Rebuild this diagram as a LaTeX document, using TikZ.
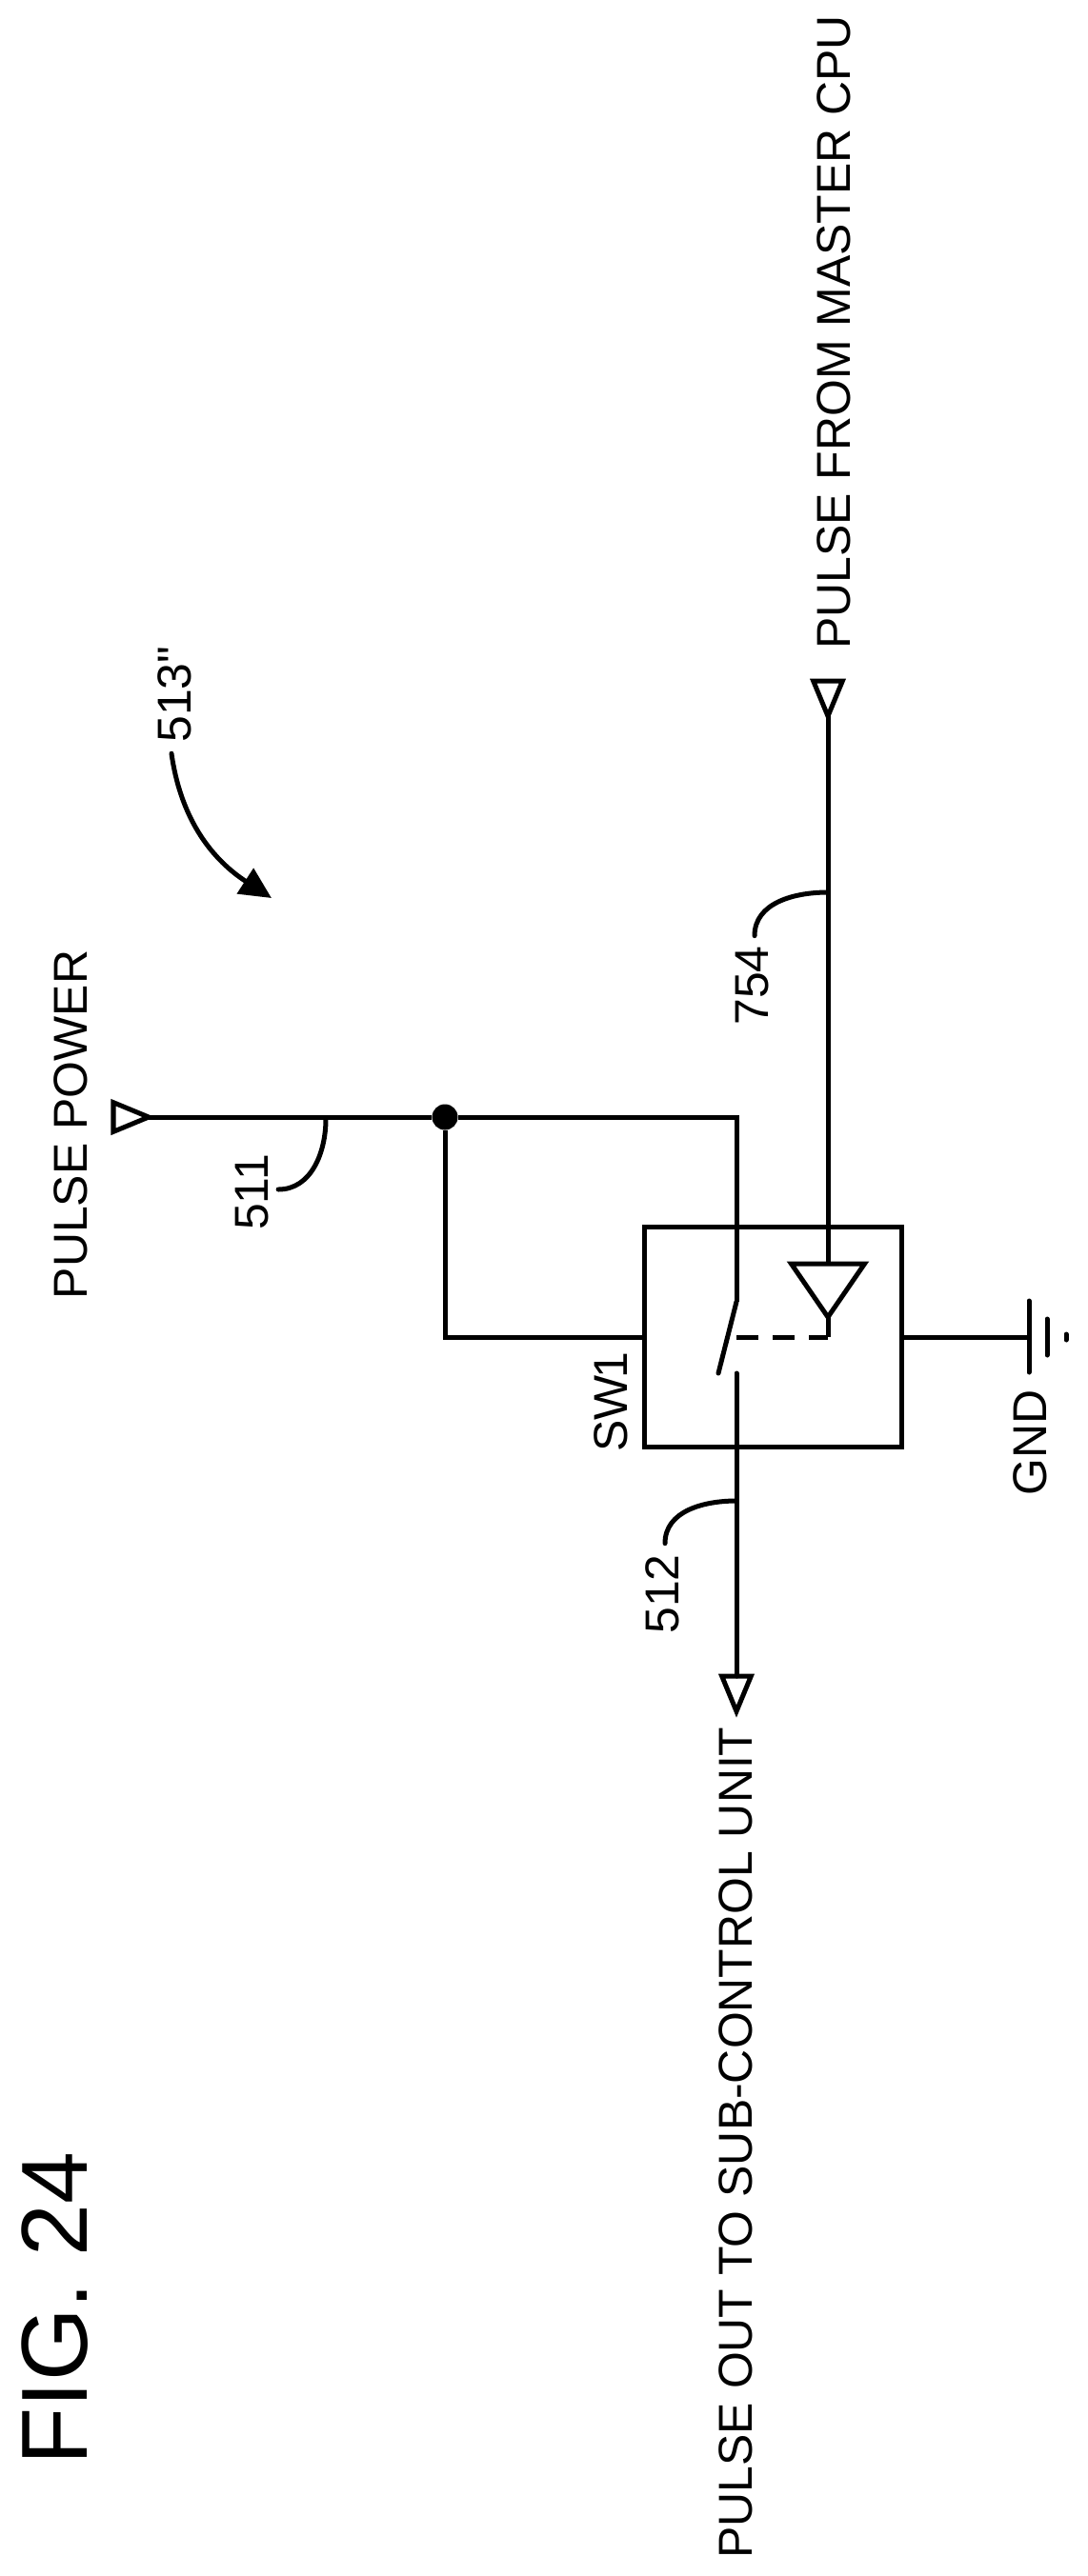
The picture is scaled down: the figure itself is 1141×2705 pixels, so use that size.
\documentclass[tikz,border=0pt]{standalone}
\usepackage{fontspec}
\setmainfont{Liberation Sans}
\newfontfamily\labelfont{Liberation Sans}
\usetikzlibrary{arrows.meta,shapes.geometric}
\tikzset{
    wire/.style={line width=.05cm},
    leader/.style={line width=.05cm,line cap=round},
    label text/.style={rotate=90,inner sep=0pt,font=\labelfont\fontsize{14.2}{16}\selectfont},
    term/.style={draw,line width=.05cm,isosceles triangle,isosceles triangle apex angle=45,
        inner sep=0pt,outer sep=0pt,minimum height=.37cm,anchor=lower side},
    buffer/.style={draw,line width=.05cm,isosceles triangle,isosceles triangle apex angle=69,
        inner sep=0pt,outer sep=0pt,minimum height=.56cm,anchor=lower side},
}

\begin{document}
\begin{tikzpicture}[x=.01cm,y=-.01cm]
	\useasboundingbox (0,0) rectangle (1141,2705);
	% switch box
	\node[draw,line width=.05cm,minimum width=2.69cm,minimum height=2.30cm,inner sep=0pt,outer sep=0pt] (sw) at (811.5,1404) {};
	\node[label text] (swname) at (641,1472) {SW\kern-.06em 1};
	% terminals
	\node[term] (power) at (119,1173) {};
	\node[term,shape border rotate=-90] (cpu) at (869,715) {};
	\node[term,shape border rotate=-90] (out) at (773,1760) {};
	\node[buffer,shape border rotate=-90] (buf) at (869,1327) {};
	\node[circle,fill,inner sep=0pt,minimum size=.27cm] (jct) at (467,1173) {};
	% wires
	\coordinate (swtop) at (773,1173);
	\coordinate (swhinge) at (773,1367);
	\coordinate (swblade) at (754,1442);
	\coordinate (swlow) at (773,1442);
	\coordinate (gang) at (869,1404);
	\coordinate (gnd) at (1080,1404);
	\draw[wire] (power.apex) -- (jct) -- (swtop) -- (swhinge);
	\draw[leader] (swhinge) -- (swblade);
	\draw[wire,line cap=round] (swlow) -- (out.lower side);
	\draw[wire] (jct) |- (sw.west);
	\draw[wire] (cpu.apex) -- (buf.lower side);
	\draw[wire] (buf.apex) -- (gang);
	\draw[wire,dash pattern=on .23cm off .15cm] (swhinge |- gang) -- (gang);
	\draw[wire] (sw.east) -- (gnd);
	% ground
	\draw[leader] (1080,1366) -- (1080,1441);
	\draw[leader] (1099,1385) -- (1099,1423);
	\draw[leader] (1119,1401) -- (1119,1407);
	\node[label text] (gndname) at (1081,1515) {GND};
	% signal names
	\node[label text] (pwrname) at (74,1181) {PULSE POWER};
	\node[label text] (cpuname) at (875,349) {PULSE FROM MASTER CPU};
	\node[label text] (outname) at (772,2250) {PULSE OUT TO SUB-CONTROL UNIT};
	% reference numbers
	\node[label text] (l511) at (265,1252) {511};
	\node[label text] (l512) at (695,1674) {512};
	\node[label text] (l754) at (790,1035) {754};
	\node[label text] (l513) at (183,729) {513"};
	\coordinate (w511) at (342,1175);
	\coordinate (w512) at (773,1576);
	\coordinate (w754) at (869,937);
	\draw[leader] (w511) to[out=-90,in=0] ([xshift=.09cm,yshift=.03cm]l511.south);
	\draw[leader] (w512) to[out=180,in=90] ([xshift=.03cm,yshift=.11cm]l512.east);
	\draw[leader] (w754) to[out=180,in=90] ([xshift=.02cm,yshift=.10cm]l754.east);
	\coordinate (tip513) at (285,943);
	\draw[leader,-{Triangle[length=.33cm,width=.31cm]}] ([xshift=-.03cm,yshift=-.11cm]l513.west) to[out=-82,in=147] (tip513);
	% title
	\node[rotate=90,inner sep=0pt,font=\fontsize{28}{32}\selectfont] (title) at (58,2424) {FIG. 24};
\end{tikzpicture}
\end{document}
